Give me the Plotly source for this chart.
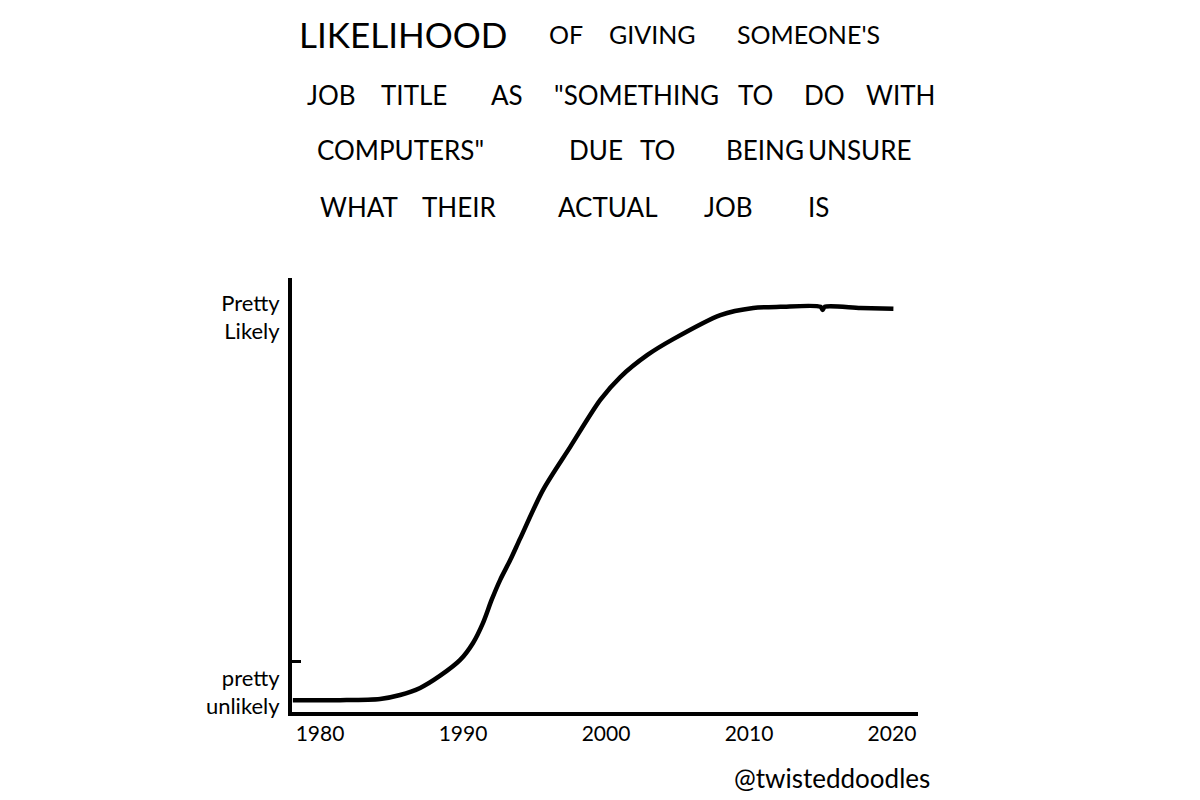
import plotly.graph_objects as go

# ---- data ----
years = [1978.1, 1981.4, 1984.2, 1985.6, 1987.0, 1988.4, 1989.8, 1990.7, 1991.4,
         1992.0, 1992.6, 1993.3, 1994.0, 1995.6, 1997.5, 1999.6, 2001.0, 2002.9,
         2004.7, 2008.0, 2010.3, 2012.2, 2015.0, 2015.15, 2015.3, 2017.8, 2020.1]
likelihood = [0.030, 0.030, 0.033, 0.043, 0.061, 0.092, 0.132, 0.175, 0.226,
              0.284, 0.335, 0.385, 0.440, 0.563, 0.672, 0.791, 0.849, 0.905,
              0.945, 1.006, 1.024, 1.027, 1.027, 1.019, 1.027, 1.024, 1.022]

x_tick_years = [1980, 1990, 2000, 2010, 2020]
x_tick_labels = ["1980", "1990", "2000", "2010", "2020"]
y_tick_values = [0.05, 1.0]
y_tick_labels = ["pretty<br>unlikely", "Pretty<br>Likely"]
y_minor_tick = [0.127]

title_lines = [
    ["LIKELIHOOD", "OF", "GIVING", "SOMEONE'S"],
    ["JOB", "TITLE", "AS", "\"SOMETHING", "TO", "DO", "WITH"],
    ["COMPUTERS\"", "DUE", "TO", "BEING", "UNSURE"],
    ["WHAT", "THEIR", "ACTUAL", "JOB", "IS"],
]
credit = "@twisteddoodles"

# ---- layout (page-pixel placement of the hand lettering) ----
title_x = [
    [403, 566, 652, 808],
    [331, 414, 507, 636, 755, 824, 900],
    [400, 596, 657, 765, 860],
    [359, 459, 608, 728, 818],
]
title_y = [34, 95, 150, 207]
title_size = [[35, 25, 25, 25], [26] * 7, [26] * 5, [26] * 5]

FONT = "Lato, sans-serif"

OFF = 8                      # page body margin
W, H = 1200 - OFF, 800 - OFF
L, R, T, B = 292 - OFF, 1200 - 918, 278 - OFF, 800 - 712
pw, ph = W - L - R, H - T - B


def px2paper(px, py):
    return (px - OFF - L) / pw, (H - B - (py - OFF)) / ph


fig = go.Figure()
fig.add_trace(go.Scatter(
    x=years, y=likelihood, mode="lines",
    line=dict(color="black", width=4.5, shape="spline", smoothing=0.8),
    hoverinfo="skip", showlegend=False,
))

ann = []
for li, words in enumerate(title_lines):
    for wi, w in enumerate(words):
        ax, ay = px2paper(title_x[li][wi], title_y[li])
        ann.append(dict(
            text=w, x=ax, y=ay, xref="paper", yref="paper",
            xanchor="center", yanchor="middle", showarrow=False,
            font=dict(family=FONT, size=title_size[li][wi], color="black"),
        ))

cx, cy = px2paper(832, 778)
ann.append(dict(text=credit, x=cx, y=cy, xref="paper", yref="paper",
                xanchor="center", yanchor="middle", showarrow=False,
                font=dict(family=FONT, size=26, color="black")))

fig.update_layout(
    width=W, height=H,
    margin=dict(l=L, r=R, t=T, b=B),
    paper_bgcolor="white", plot_bgcolor="white",
    annotations=ann,
    font=dict(family=FONT, color="black"),
    xaxis=dict(
        range=[1978.04, 2021.82], showline=True, linewidth=4, linecolor="black",
        showgrid=False, zeroline=False, ticks="",
        tickvals=x_tick_years, ticktext=x_tick_labels,
        tickfont=dict(family=FONT, size=21, color="black"),
        ticklabelstandoff=0,
    ),
    yaxis=dict(
        range=[0, 1.1], showline=True, linewidth=4, linecolor="black",
        showgrid=False, zeroline=False, ticks="",
        tickvals=y_tick_values, ticktext=y_tick_labels,
        tickfont=dict(family=FONT, size=22, color="black"),
        ticklabelstandoff=4,
        minor=dict(tickvals=y_minor_tick, ticks="inside", ticklen=9,
                   tickwidth=3, tickcolor="black", showgrid=False),
    ),
)

fig.write_html("out.html")
